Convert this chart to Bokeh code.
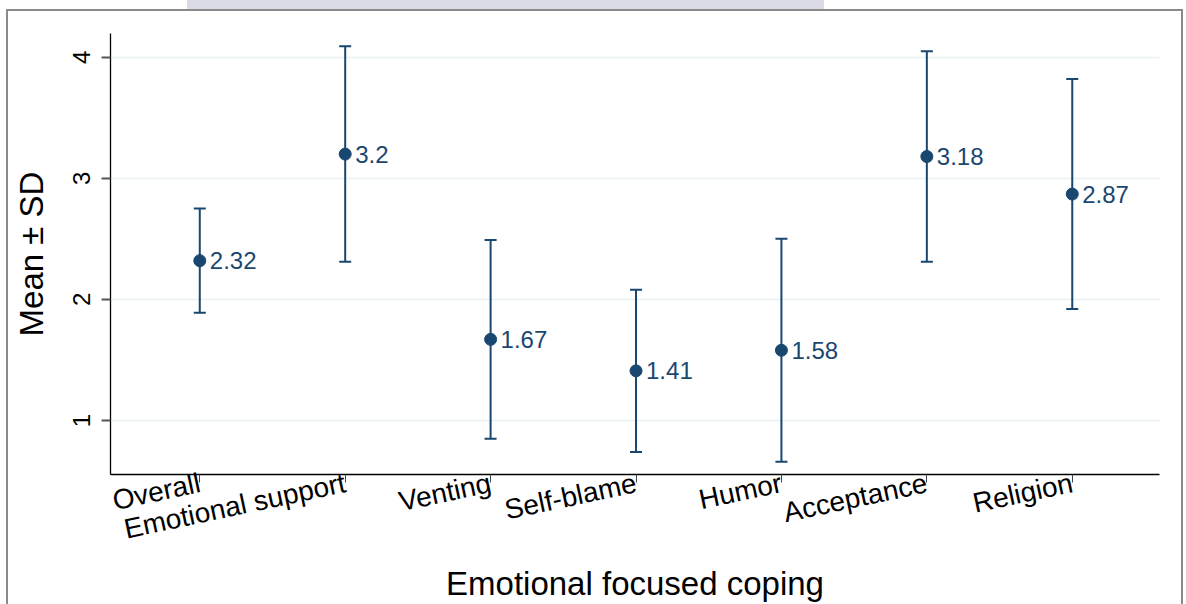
import numpy as np
from bokeh.plotting import figure
from bokeh.models import Range1d, FixedTicker, Whisker, TeeHead, ColumnDataSource
from bokeh.core.properties import value
from bokeh.embed import file_html
from bokeh.resources import INLINE

# Emotion-focused coping subscales: mean and standard deviation
categories = ["Overall", "Emotional support", "Venting", "Self-blame",
              "Humor", "Acceptance", "Religion"]
means = [2.32, 3.20, 1.67, 1.41, 1.58, 3.18, 2.87]
sds = [0.43, 0.89, 0.82, 0.67, 0.92, 0.87, 0.95]
y_ticks = [1, 2, 3, 4]

NAVY = "#1a476f"
FONT = "Liberation Sans"
FRAME_GRAY = "#8a8a8a"
STRIP = "#dadbe4"

positions = list(range(1, len(categories) + 1))
lower = [m - s for m, s in zip(means, sds)]
upper = [m + s for m, s in zip(means, sds)]
labels = [f"{m:g}" for m in means]

src = ColumnDataSource(dict(x=positions, mean=means, lower=lower,
                            upper=upper, label=labels))

# page frame and header strip painted behind a transparent border area
def solid(c):
    return f"linear-gradient({c},{c})"

page_bg = {
    "background-color": "white",
    "background-image": ", ".join([solid(STRIP), solid(FRAME_GRAY),
                                   solid(FRAME_GRAY), solid(FRAME_GRAY)]),
    "background-position": "187px 0px, 6px 9px, 6px 9px, 1181px 9px",
    "background-size": "637px 9px, 1177px 2px, 2px 100%, 2px 100%",
    "background-repeat": "no-repeat",
}

p = figure(width=1186, height=604,
           x_range=Range1d(0.386, 7.60), y_range=Range1d(0.554, 4.196),
           output_backend="svg", toolbar_location=None,
           min_border_left=110, min_border_right=27,
           min_border_top=33, min_border_bottom=130,
           background_fill_color="white", border_fill_color=None,
           styles=page_bg)
p.outline_line_color = None

# grid
p.xgrid.visible = False
p.ygrid.ticker = FixedTicker(ticks=y_ticks)
p.ygrid.grid_line_color = "#e9f0f2"
p.ygrid.grid_line_width = 1.5

# x axis
p.xaxis.ticker = FixedTicker(ticks=positions)
p.xaxis.major_label_overrides = {i: c for i, c in zip(positions, categories)}
p.xaxis.major_label_orientation = np.deg2rad(12)
p.xaxis.axis_label = "Emotional focused coping"
p.xaxis.major_tick_out = 8
p.xaxis.major_tick_in = 0
p.xaxis.major_tick_line_color = "#444444"
p.xaxis.major_label_standoff = 0
p.xaxis.axis_label_standoff = 2

# y axis
p.yaxis.ticker = FixedTicker(ticks=y_ticks)
p.yaxis.major_label_orientation = "vertical"
p.yaxis.axis_label = "Mean ± SD"
p.yaxis.major_tick_out = 9
p.yaxis.major_tick_in = 0
p.yaxis.major_tick_line_width = 2
p.yaxis.major_tick_line_color = "#555555"
p.yaxis.major_label_standoff = 11
p.yaxis.axis_label_standoff = 21

for ax in (p.xaxis, p.yaxis):
    ax.minor_tick_line_color = None
    ax.axis_line_color = "black"
    ax.axis_line_width = 1.3
    ax.major_label_text_font = FONT
    ax.major_label_text_color = "black"
    ax.axis_label_text_font = FONT
    ax.axis_label_text_font_style = "normal"
    ax.axis_label_text_color = "black"
    ax.axis_label_text_font_size = "33px"
p.xaxis.major_label_text_font_size = "28px"
p.yaxis.major_label_text_font_size = "24px"

# mean ± SD bars
whisk = Whisker(source=src, base="x", upper="upper", lower="lower",
                line_color=NAVY, line_width=2,
                upper_head=TeeHead(size=12, line_color=NAVY, line_width=2),
                lower_head=TeeHead(size=12, line_color=NAVY, line_width=2))
p.add_layout(whisk)

p.scatter("x", "mean", source=src, size=12, fill_color=NAVY,
          line_color=NAVY)
p.text("x", "mean", text="label", source=src, x_offset=10,
       text_baseline="middle", text_align="left",
       text_font=value(FONT), text_font_size="24px", text_color=NAVY)

open("out.html", "w").write(file_html(p, INLINE))
